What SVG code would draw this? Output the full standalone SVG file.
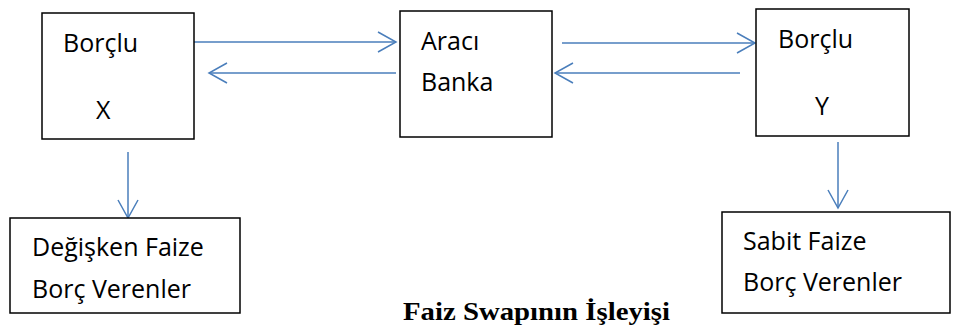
<svg xmlns="http://www.w3.org/2000/svg" width="953" height="329" viewBox="0 0 953 329">
<defs>
<style>
.box{fill:#fff;stroke:#000;stroke-width:1.5}
.t{font-family:"Open Sans","Liberation Sans",sans-serif;font-size:25px;fill:#000}
.c{stroke:#4a7ebb;stroke-width:1.5;fill:none}
.title{font-family:"Liberation Serif","Times New Roman",serif;font-weight:bold;font-size:25px;fill:#000}
</style>
<marker id="ah" markerUnits="userSpaceOnUse" markerWidth="24" markerHeight="24" viewBox="-20 -12 24 24" refX="0" refY="0" orient="auto">
<polyline points="-18,-10 0,0 -18,10" fill="none" stroke="#4a7ebb" stroke-width="1.5"/>
</marker>
</defs>
<rect width="953" height="329" fill="#fff"/>
<g id="connectors">
<line class="c" x1="193" y1="42" x2="396" y2="42" marker-end="url(#ah)"/>
<line class="c" x1="396" y1="73" x2="209" y2="73" marker-end="url(#ah)"/>
<line class="c" x1="562" y1="43" x2="755" y2="43" marker-end="url(#ah)"/>
<line class="c" x1="740" y1="73" x2="555" y2="73" marker-end="url(#ah)"/>
<line class="c" x1="128" y1="152" x2="128" y2="218" marker-end="url(#ah)"/>
<line class="c" x1="838" y1="142" x2="838" y2="208" marker-end="url(#ah)"/>
</g>
<g id="borclu-x">
<rect class="box" x="42" y="13" width="152" height="126"/>
<text class="t" x="63" y="52">Borçlu</text>
<text class="t" x="96" y="119">X</text>
</g>
<g id="araci-banka">
<rect class="box" x="400" y="11" width="152" height="126"/>
<text class="t" x="421" y="50">Aracı</text>
<text class="t" x="421" y="91">Banka</text>
</g>
<g id="borclu-y">
<rect class="box" x="756" y="9" width="153" height="127"/>
<text class="t" x="778" y="48">Borçlu</text>
<text class="t" x="815" y="115">Y</text>
</g>
<g id="degisken">
<rect class="box" x="10" y="218" width="230" height="95"/>
<text class="t" x="32" y="256">Değişken Faize</text>
<text class="t" x="32" y="298">Borç Verenler</text>
</g>
<g id="sabit">
<rect class="box" x="722" y="212" width="228" height="101"/>
<text class="t" x="743" y="250">Sabit Faize</text>
<text class="t" x="743" y="291">Borç Verenler</text>
</g>
<text class="title" x="403" y="320" textLength="267" lengthAdjust="spacingAndGlyphs">Faiz Swapının İşleyişi</text>
</svg>
